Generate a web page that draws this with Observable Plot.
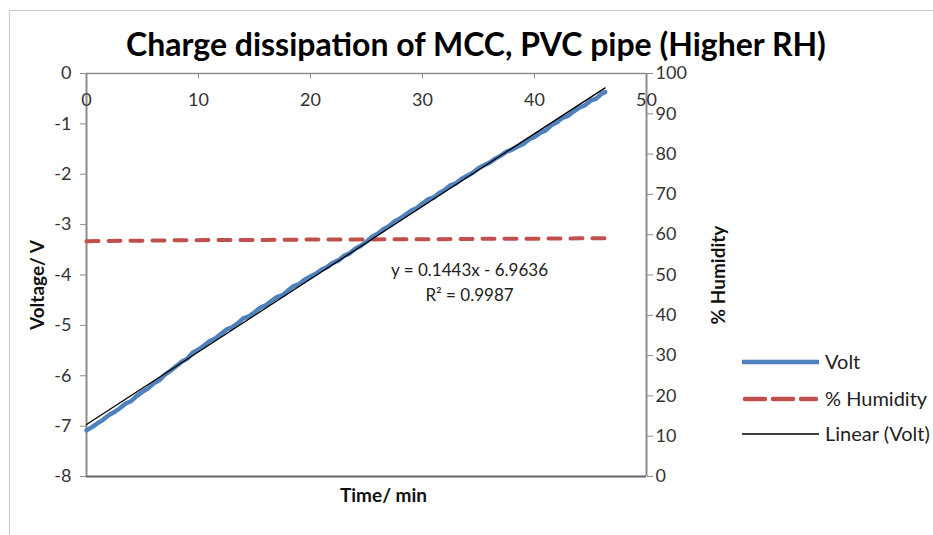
<!DOCTYPE html>
<html><head><meta charset="utf-8">
<script src="https://cdn.jsdelivr.net/npm/d3@7"></script>
<script src="https://cdn.jsdelivr.net/npm/@observablehq/plot@0.6"></script>
<style>
body{margin:0;background:#fff;overflow:hidden}
#wrap{position:relative;width:933px;height:535px;overflow:hidden}
#border{position:absolute;left:9px;top:10px;width:1000px;height:600px;border:1px solid #c8c8c8;box-sizing:border-box}
#chart{position:absolute;left:0;top:0}
</style>
</head><body>
<div id="wrap"><div id="border"></div><div id="chart"></div></div>
<script>
// ---- data ----
const timeMin = [0,0.5,1,1.5,2,2.5,3,3.5,4,4.5,5,5.5,6,6.5,7,7.5,8,8.5,9,9.5,10,10.5,11,11.5,12,12.5,13,13.5,14,14.5,15,15.5,16,16.5,17,17.5,18,18.5,19,19.5,20,20.5,21,21.5,22,22.5,23,23.5,24,24.5,25,25.5,26,26.5,27,27.5,28,28.5,29,29.5,30,30.5,31,31.5,32,32.5,33,33.5,34,34.5,35,35.5,36,36.5,37,37.5,38,38.5,39,39.5,40,40.5,41,41.5,42,42.5,43,43.5,44,44.5,45,45.5,46,46.3];
const volt = [-7.08,-7.02,-6.94,-6.87,-6.78,-6.72,-6.64,-6.55,-6.50,-6.40,-6.32,-6.25,-6.15,-6.09,-5.98,-5.90,-5.81,-5.72,-5.66,-5.54,-5.48,-5.40,-5.31,-5.26,-5.17,-5.08,-5.04,-4.96,-4.86,-4.82,-4.74,-4.65,-4.60,-4.52,-4.44,-4.40,-4.31,-4.22,-4.18,-4.09,-4.03,-3.97,-3.89,-3.84,-3.76,-3.71,-3.62,-3.57,-3.48,-3.42,-3.34,-3.24,-3.18,-3.09,-3.03,-2.94,-2.88,-2.80,-2.72,-2.67,-2.58,-2.50,-2.46,-2.37,-2.31,-2.22,-2.18,-2.09,-2.03,-1.97,-1.88,-1.82,-1.77,-1.69,-1.63,-1.55,-1.51,-1.45,-1.40,-1.31,-1.26,-1.18,-1.13,-1.03,-0.97,-0.88,-0.84,-0.75,-0.68,-0.63,-0.54,-0.50,-0.40,-0.37];
const humTime = [0,4,8,12,16,20,24,28,32,36,40,44,46.3];
const humidity = [58.4,58.5,58.6,58.7,58.7,58.8,58.8,58.9,58.9,59.0,59.0,59.1,59.1];
const xTicks = [0,10,20,30,40,50];
const voltTicks = [-8,-7,-6,-5,-4,-3,-2,-1,0];
const humTicks = [0,10,20,30,40,50,60,70,80,90,100];
const title = "Charge dissipation of MCC, PVC pipe (Higher RH)";
const equation = ["y = 0.1443x - 6.9636", "R² = 0.9987"];
const legendItems = ["Volt", "% Humidity", "Linear (Volt)"];

const BLUE = "#4F81BD", RED = "#C0504D", AX = "#8c8c8c";
const FONT = "Lato, 'Open Sans', sans-serif";

const voltData = timeMin.map((t,i)=>({t, v: volt[i]}));
// humidity mapped onto the voltage scale (0..100 % -> -8..0 V)
const h2v = h => h/100*8 - 8;
const humData = humTime.map((t,i)=>({t, v: h2v(humidity[i])}));

const plot = Plot.plot({
  width: 933, height: 535,
  marginLeft: 86, marginRight: 287, marginTop: 73, marginBottom: 59,
  style: {fontFamily: FONT, background: "transparent"},
  x: {domain: [0,50], axis: null},
  y: {domain: [-8,0], axis: null},
  marks: [
    // axis lines
    Plot.ruleY([0], {stroke: AX, strokeWidth: 1.3}),
    Plot.ruleY([-8], {stroke: "#666", strokeWidth: 2}),
    Plot.ruleX([0], {stroke: AX, strokeWidth: 2}),
    Plot.ruleX([50], {stroke: AX, strokeWidth: 2}),
    // top x ticks (inward) and labels
    Plot.ruleX(xTicks.slice(1), {x: d=>d, y1: 0, y2: -0.11, stroke: AX, strokeWidth: 1}),
    Plot.text(xTicks, {x: d=>d, y: 0, dy: 27, text: d=>String(d), fontSize: 18, fill: "#333"}),
    // left axis
    Plot.axisY(voltTicks, {anchor: "left", tickSize: 6, tickPadding: 9, fontSize: 18, stroke: AX, fill: "#333", label: null,
      tickFormat: d => d === 0 ? "0" : "-" + Math.abs(d)}),
    // right axis (humidity)
    Plot.axisY(humTicks.map(h2v), {anchor: "right", tickSize: 6, tickPadding: 3, fontSize: 18, stroke: AX, fill: "#333", label: null,
      tickFormat: d => String(Math.round((d+8)/8*100))}),
    // axis titles
    Plot.text(["Voltage/ V"], {frameAnchor: "left", textAnchor: "middle", dx: -49, dy: 10, rotate: -90, fontSize: 19, fontWeight: "bold", fill: "#111"}),
    Plot.text(["% Humidity"], {frameAnchor: "right", textAnchor: "middle", dx: 72, dy: 0, rotate: -90, fontSize: 19, fontWeight: "bold", fill: "#111"}),
    Plot.text(["Time/ min"], {frameAnchor: "bottom", dx: 17, dy: 25, fontSize: 19, fontWeight: "bold", fill: "#111"}),
    // series
    Plot.line(humData, {x: "t", y: "v", stroke: RED, strokeWidth: 4, strokeDasharray: "12,10", strokeLinecap: "round"}),
    Plot.line(voltData, {x: "t", y: "v", stroke: BLUE, strokeWidth: 4.5, strokeLinejoin: "round", strokeLinecap: "round"}),
    Plot.linearRegressionY(voltData, {x: "t", y: "v", stroke: "#000", strokeWidth: 1.3, ci: 0}),
    // equation
    Plot.text(equation, {x: 34.2, y: (d,i)=> -3.92 - i*0.48, text: d=>d, fontSize: 17, fill: "#222"})
  ]
});
document.getElementById("chart").appendChild(plot);

const svg = d3.select(plot);
svg.append("text").attr("x", 476).attr("y", 56).attr("text-anchor", "middle")
  .attr("font-family", FONT).attr("font-size", 32).attr("font-weight", "bold").attr("fill", "#000")
  .text(title);

// legend
const lg = svg.append("g").attr("font-family", FONT).attr("font-size", 20).attr("fill", "#222").attr("text-anchor", "start");
const ly = [362, 399, 434];
const styles = [
  {stroke: BLUE, w: 4.5, dash: null, cap: "butt"},
  {stroke: RED, w: 4.5, dash: "20,8", cap: "round"},
  {stroke: "#000", w: 1.3, dash: null, cap: "butt"}
];
legendItems.forEach((name, i) => {
  const s = styles[i];
  const x1 = s.dash ? 745 : 742, x2 = s.dash ? 816 : 819;
  const ln = lg.append("line").attr("x1", x1).attr("x2", x2).attr("y1", ly[i]).attr("y2", ly[i])
    .attr("stroke", s.stroke).attr("stroke-width", s.w).attr("stroke-linecap", s.cap);
  if (s.dash) ln.attr("stroke-dasharray", s.dash);
  lg.append("text").attr("x", 825).attr("y", ly[i]).attr("dy", "0.35em").text(name);
});
</script>
</body></html>
